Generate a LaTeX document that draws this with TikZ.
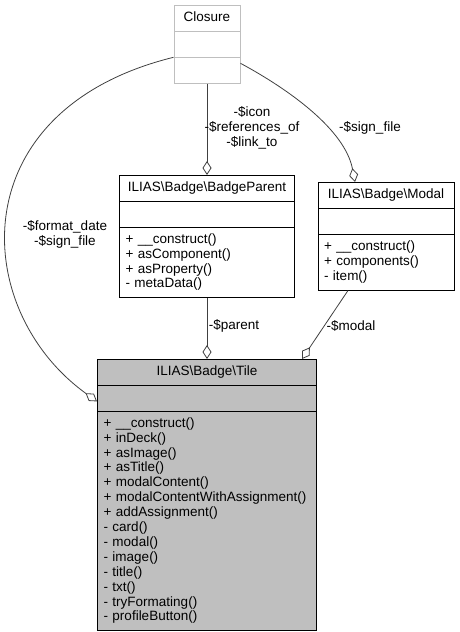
\documentclass[tikz,border=0pt]{standalone}
\usepackage{fontspec}
\setmainfont{Liberation Sans}
\usetikzlibrary{shapes.multipart,arrows.meta,positioning}

\definecolor{edgegray}{HTML}{404040}
\definecolor{framegray}{HTML}{BFBFBF}
\definecolor{tilegray}{HTML}{BFBFBF}
\newcommand{\umlfont}{\fontsize{13.5}{14.9}\selectfont}
\newcommand{\bsl}{\textbackslash}
\newcommand{\classtitle}[1]{\makebox[\hsize]{\strut #1}}

\begin{document}
\begin{tikzpicture}[x=1pt, y=-1pt,
    classbox/.style={rectangle split, rectangle split parts=3, draw, line width=1pt,
        anchor=north, align=left, inner xsep=6pt, inner ysep=5pt, font=\umlfont},
    agg/.style={draw=edgegray, line width=0.8pt, -{Diamond[open, length=14pt, width=9pt]}},
    lbl/.style={font=\umlfont, align=center, inner sep=0pt}]
    \useasboundingbox (0,0) rectangle (459,632);

    % Classes
    \node[classbox, draw=framegray, text width=54pt] (closure) at (207,5)
        {\classtitle{Closure}\nodepart{second}\strut\nodepart{third}\strut};
    \node[classbox, text width=163pt] (parent) at (207,175)
        {\classtitle{ILIAS\bsl Badge\bsl BadgeParent}
         \nodepart{second}\strut
         \nodepart{third}\strut + \_\_construct()\\ + asComponent()\\ + asProperty()\\ - metaData()\strut};
    \node[classbox, text width=124pt] (modal) at (386,182)
        {\classtitle{ILIAS\bsl Badge\bsl Modal}
         \nodepart{second}\strut
         \nodepart{third}\strut + \_\_construct()\\ + components()\\ - item()\strut};
    \node[classbox, fill=tilegray, text width=207pt] (tile) at (207,359)
        {\classtitle{ILIAS\bsl Badge\bsl Tile}
         \nodepart{second}\strut
         \nodepart{third}\strut + \_\_construct()\\ + inDeck()\\ + asImage()\\ + asTitle()\\
         + modalContent()\\ + modalContentWithAssignment()\\ + addAssignment()\\ - card()\\
         - modal()\\ - image()\\ - title()\\ - txt()\\ - tryFormating()\\ - profileButton()\strut};

    % Aggregations
    \draw[agg] (closure.south) -- (parent.north);
    \draw[agg] ([yshift=-6pt]closure.two split east) .. controls (290,90) and (345,130) .. ([xshift=-31pt]modal.north);
    \draw[agg] (closure.two split west) .. controls (-40,110) and (-30,310) .. ([yshift=-16pt]tile.text split west);
    \draw[agg] (parent.south) -- (tile.north);
    \draw[agg] ([xshift=-38pt]modal.south) -- ([xshift=95pt]tile.north);

    % Labels
    \node[lbl] (iconlbl) at (252,128) {-\$icon\\-\$references\_of\\-\$link\_to};
    \node[lbl] (signlbl) at (370,128) {-\$sign\_file};
    \node[lbl] (datelbl) at (65,234) {-\$format\_date\\-\$sign\_file};
    \node[lbl] (parentlbl) at (234,326) {-\$parent};
    \node[lbl] (modallbl) at (351,326) {-\$modal};
\end{tikzpicture}
\end{document}
